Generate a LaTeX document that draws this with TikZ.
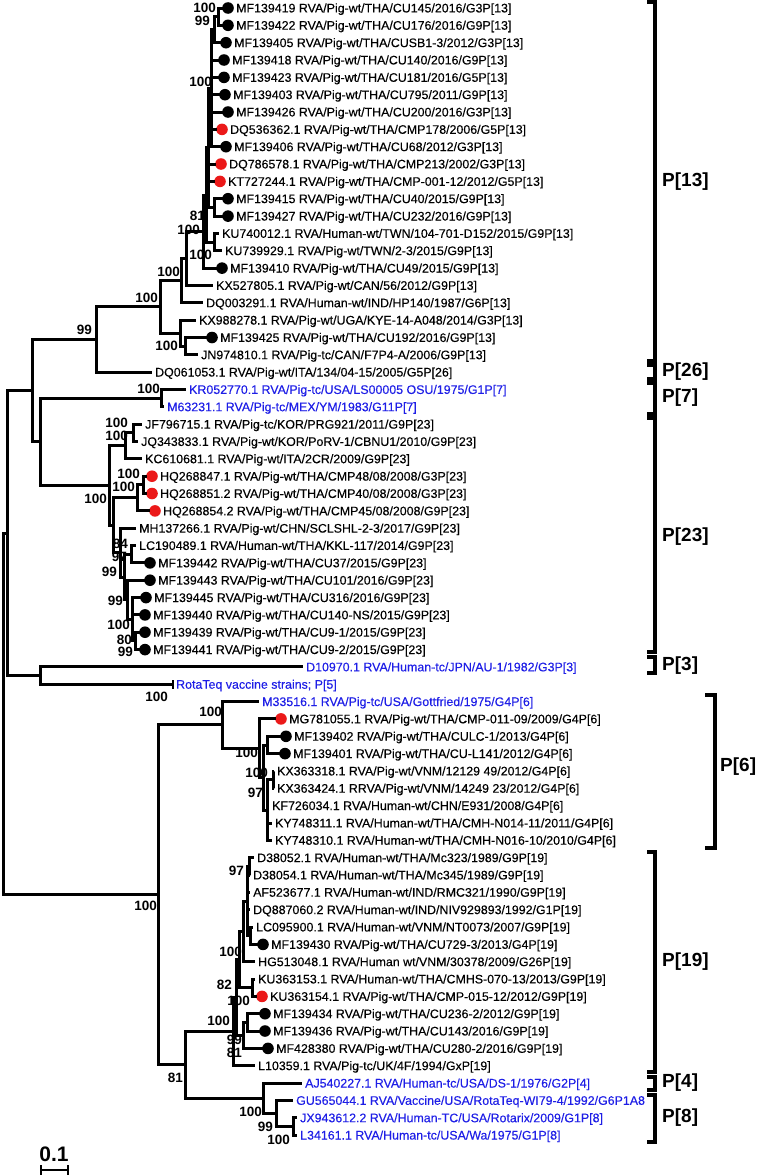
\documentclass[tikz,border=0pt]{standalone}
\usepackage{fontspec}
\setmainfont{Liberation Sans}
\newfontfamily\taxfont[FakeBold=0.3]{Liberation Sans}
\definecolor{tblue}{RGB}{30,30,230}
\definecolor{tred}{RGB}{235,25,25}
\tikzset{
 br/.style={line width=3pt, line join=miter},
 tx/.style={font=\taxfont\fontsize{12.4}{14}\selectfont, inner sep=0pt, anchor=base west},
 btx/.style={tx, text=tblue},
 bs/.style={font=\bfseries\fontsize{13.5}{15}\selectfont, inner sep=0pt, anchor=east},
 gl/.style={font=\bfseries\fontsize{19}{21}\selectfont, inner sep=0pt, anchor=west},
 bdot/.style={circle, fill=black, inner sep=0pt, minimum size=11.6pt},
 rdot/.style={circle, fill=tred, inner sep=0pt, minimum size=11.6pt},
 bk/.style={line width=4pt, line join=miter},
}
\newcommand\dleaf[5]{%
 \node[#4] (d#1) at (#2,#3) {};
 \coordinate (r#1) at ({#2-5.5},#3);
 \node[tx] (t#1) at ({#2+8},{#3+4.4}) {#5};}
\newcommand\pleaf[4]{%
 \coordinate (r#1) at ({#2-3},#3);
 \node[tx] (t#1) at (#2,{#3+4.4}) {#4};}
\newcommand\bleaf[4]{%
 \coordinate (r#1) at ({#2-3},#3);
 \node[btx] (t#1) at (#2,{#3+4.4}) {#4};}
\newcommand\treekids[2]{\foreach \c in {#2} {\draw[br] (#1) |- (\c);}}
\begin{document}
\begin{tikzpicture}[x=1pt,y=-1pt]
\useasboundingbox (0,0) rectangle (756,1175);
% ---------- bootstrap labels ----------
\node[bs] (b1) at (216,8) {100};
\node[bs] (b2) at (210,21) {99};
\node[bs] (b3) at (212,82) {100};
\node[bs] (b4) at (205,216) {81};
\node[bs] (b5) at (200,229.5) {100};
\node[bs] (b6) at (212,255) {100};
\node[bs] (b7) at (180,272) {100};
\node[bs] (b8) at (158,298) {100};
\node[bs] (b9) at (92,330) {99};
\node[bs] (b10) at (178,346) {100};
\node[bs] (b11) at (160,389) {100};
\node[bs] (b12) at (128,423) {100};
\node[bs] (b13) at (128,436) {100};
\node[bs] (b14) at (140,474) {100};
\node[bs] (b15) at (135,487) {100};
\node[bs] (b16) at (107,499) {100};
\node[bs] (b17) at (128,544) {84};
\node[bs] (b18) at (127,557) {97};
\node[bs] (b19) at (117,572) {99};
\node[bs] (b20) at (123,601) {99};
\node[bs] (b21) at (130,625) {100};
\node[bs] (b22) at (132,640) {80};
\node[bs] (b23) at (133,652) {99};
\node[bs] (b24) at (168,697) {100};
\node[bs] (b25) at (222,712) {100};
\node[bs] (b26) at (258,753) {100};
\node[bs] (b27) at (268,773) {100};
\node[bs] (b28) at (263,793) {97};
\node[bs] (b29) at (244,871) {97};
\node[bs] (b30) at (157,906) {100};
\node[bs] (b31) at (242,952) {100};
\node[bs] (b32) at (232,985) {82};
\node[bs] (b33) at (250,1001) {100};
\node[bs] (b34) at (230,1021) {100};
\node[bs] (b35) at (242,1040) {99};
\node[bs] (b36) at (242,1053) {81};
\node[bs] (b37) at (183,1078) {81};
\node[bs] (b38) at (262,1112) {100};
\node[bs] (b39) at (273,1127) {99};
\node[bs] (b40) at (290,1140) {100};
% ---------- leaves ----------
\dleaf{1}{228}{8}{bdot}{MF139419 RVA/Pig-wt/THA/CU145/2016/G3P[13]}
\dleaf{2}{228}{25.3}{bdot}{MF139422 RVA/Pig-wt/THA/CU176/2016/G9P[13]}
\dleaf{3}{226}{42.7}{bdot}{MF139405 RVA/Pig-wt/THA/CUSB1-3/2012/G3P[13]}
\dleaf{4}{224}{60}{bdot}{MF139418 RVA/Pig-wt/THA/CU140/2016/G9P[13]}
\dleaf{5}{224}{77.4}{bdot}{MF139423 RVA/Pig-wt/THA/CU181/2016/G5P[13]}
\dleaf{6}{225}{94.7}{bdot}{MF139403 RVA/Pig-wt/THA/CU795/2011/G9P[13]}
\dleaf{7}{228}{112}{bdot}{MF139426 RVA/Pig-wt/THA/CU200/2016/G3P[13]}
\dleaf{8}{222}{129.4}{rdot}{DQ536362.1 RVA/Pig-wt/THA/CMP178/2006/G5P[13]}
\dleaf{9}{226}{146.7}{bdot}{MF139406 RVA/Pig-wt/THA/CU68/2012/G3P[13]}
\dleaf{10}{221}{164}{rdot}{DQ786578.1 RVA/Pig-wt/THA/CMP213/2002/G3P[13]}
\dleaf{11}{220}{181.4}{rdot}{KT727244.1 RVA/Pig-wt/THA/CMP-001-12/2012/G5P[13]}
\dleaf{12}{228}{198.7}{bdot}{MF139415 RVA/Pig-wt/THA/CU40/2015/G9P[13]}
\dleaf{13}{228}{216.1}{bdot}{MF139427 RVA/Pig-wt/THA/CU232/2016/G9P[13]}
\pleaf{14}{222}{233.4}{KU740012.1 RVA/Human-wt/TWN/104-701-D152/2015/G9P[13]}
\pleaf{15}{225}{250.7}{KU739929.1 RVA/Pig-wt/TWN/2-3/2015/G9P[13]}
\dleaf{16}{222}{268.1}{bdot}{MF139410 RVA/Pig-wt/THA/CU49/2015/G9P[13]}
\pleaf{17}{216}{285.4}{KX527805.1 RVA/Pig-wt/CAN/56/2012/G9P[13]}
\pleaf{18}{206}{302.8}{DQ003291.1 RVA/Human-wt/IND/HP140/1987/G6P[13]}
\pleaf{19}{199}{320.1}{KX988278.1 RVA/Pig-wt/UGA/KYE-14-A048/2014/G3P[13]}
\dleaf{20}{212}{337.5}{bdot}{MF139425 RVA/Pig-wt/THA/CU192/2016/G9P[13]}
\pleaf{21}{201}{354.8}{JN974810.1 RVA/Pig-tc/CAN/F7P4-A/2006/G9P[13]}
\pleaf{22}{155}{372.1}{DQ061053.1 RVA/Pig-wt/ITA/134/04-15/2005/G5P[26]}
\bleaf{23}{189}{389.5}{KR052770.1 RVA/Pig-tc/USA/LS00005 OSU/1975/G1P[7]}
\bleaf{24}{167}{406.8}{M63231.1 RVA/Pig-tc/MEX/YM/1983/G11P[7]}
\pleaf{25}{145}{424.2}{JF796715.1 RVA/Pig-tc/KOR/PRG921/2011/G9P[23]}
\pleaf{26}{141}{441.5}{JQ343833.1 RVA/Pig-wt/KOR/PoRV-1/CBNU1/2010/G9P[23]}
\pleaf{27}{145}{458.8}{KC610681.1 RVA/Pig-wt/ITA/2CR/2009/G9P[23]}
\dleaf{28}{152}{476.2}{rdot}{HQ268847.1 RVA/Pig-wt/THA/CMP48/08/2008/G3P[23]}
\dleaf{29}{152}{493.5}{rdot}{HQ268851.2 RVA/Pig-wt/THA/CMP40/08/2008/G3P[23]}
\dleaf{30}{155}{510.9}{rdot}{HQ268854.2 RVA/Pig-wt/THA/CMP45/08/2008/G9P[23]}
\pleaf{31}{139}{528.2}{MH137266.1 RVA/Pig-wt/CHN/SCLSHL-2-3/2017/G9P[23]}
\pleaf{32}{139}{545.5}{LC190489.1 RVA/Human-wt/THA/KKL-117/2014/G9P[23]}
\dleaf{33}{150}{562.9}{bdot}{MF139442 RVA/Pig-wt/THA/CU37/2015/G9P[23]}
\dleaf{34}{150}{580.2}{bdot}{MF139443 RVA/Pig-wt/THA/CU101/2016/G9P[23]}
\dleaf{35}{146}{597.6}{bdot}{MF139445 RVA/Pig-wt/THA/CU316/2016/G9P[23]}
\dleaf{36}{145}{614.9}{bdot}{MF139440 RVA/Pig-wt/THA/CU140-NS/2015/G9P[23]}
\dleaf{37}{145}{632.2}{bdot}{MF139439 RVA/Pig-wt/THA/CU9-1/2015/G9P[23]}
\dleaf{38}{145}{649.6}{bdot}{MF139441 RVA/Pig-wt/THA/CU9-2/2015/G9P[23]}
\bleaf{39}{306}{666.9}{D10970.1 RVA/Human-tc/JPN/AU-1/1982/G3P[3]}
\bleaf{40}{176}{684.3}{RotaTeq vaccine strains; P[5]}
\bleaf{41}{262}{701.6}{M33516.1 RVA/Pig-tc/USA/Gottfried/1975/G4P[6]}
\dleaf{42}{281}{718.9}{rdot}{MG781055.1 RVA/Pig-wt/THA/CMP-011-09/2009/G4P[6]}
\dleaf{43}{286}{736.3}{bdot}{MF139402 RVA/Pig-wt/THA/CULC-1/2013/G4P[6]}
\dleaf{44}{285}{753.6}{bdot}{MF139401 RVA/Pig-wt/THA/CU-L141/2012/G4P[6]}
\pleaf{45}{277}{771}{KX363318.1 RVA/Pig-wt/VNM/12129 49/2012/G4P[6]}
\pleaf{46}{277}{788.3}{KX363424.1 RRVA/Pig-wt/VNM/14249 23/2012/G4P[6]}
\pleaf{47}{272}{805.6}{KF726034.1 RVA/Human-wt/CHN/E931/2008/G4P[6]}
\pleaf{48}{275}{823}{KY748311.1 RVA/Human-wt/THA/CMH-N014-11/2011/G4P[6]}
\pleaf{49}{275}{840.3}{KY748310.1 RVA/Human-wt/THA/CMH-N016-10/2010/G4P[6]}
\pleaf{50}{257}{857.7}{D38052.1 RVA/Human-wt/THA/Mc323/1989/G9P[19]}
\pleaf{51}{253}{875}{D38054.1 RVA/Human-wt/THA/Mc345/1989/G9P[19]}
\pleaf{52}{253}{892.3}{AF523677.1 RVA/Human-wt/IND/RMC321/1990/G9P[19]}
\pleaf{53}{253}{909.7}{DQ887060.2 RVA/Human-wt/IND/NIV929893/1992/G1P[19]}
\pleaf{54}{256}{927}{LC095900.1 RVA/Human-wt/VNM/NT0073/2007/G9P[19]}
\dleaf{55}{263}{944.4}{bdot}{MF139430 RVA/Pig-wt/THA/CU729-3/2013/G4P[19]}
\pleaf{56}{258}{961.7}{HG513048.1 RVA/Human wt/VNM/30378/2009/G26P[19]}
\pleaf{57}{258}{979}{KU363153.1 RVA/Human-wt/THA/CMHS-070-13/2013/G9P[19]}
\dleaf{58}{262}{996.4}{rdot}{KU363154.1 RVA/Pig-wt/THA/CMP-015-12/2012/G9P[19]}
\dleaf{59}{265}{1013.7}{bdot}{MF139434 RVA/Pig-wt/THA/CU236-2/2012/G9P[19]}
\dleaf{60}{265}{1031}{bdot}{MF139436 RVA/Pig-wt/THA/CU143/2016/G9P[19]}
\dleaf{61}{268}{1048.4}{bdot}{MF428380 RVA/Pig-wt/THA/CU280-2/2016/G9P[19]}
\pleaf{62}{258}{1065.7}{L10359.1 RVA/Pig-tc/UK/4F/1994/GxP[19]}
\bleaf{63}{305}{1083.1}{AJ540227.1 RVA/Human-tc/USA/DS-1/1976/G2P[4]}
\bleaf{64}{296}{1100.4}{GU565044.1 RVA/Vaccine/USA/RotaTeq-WI79-4/1992/G6P1A8}
\bleaf{65}{300}{1117.8}{JX943612.2 RVA/Human-TC/USA/Rotarix/2009/G1P[8]}
\bleaf{66}{300}{1135.1}{L34161.1 RVA/Human-tc/USA/Wa/1975/G1P[8]}
% ---------- internal nodes ----------
\coordinate (a) at (218,16.7);
\coordinate (b) at (214,29.7);
\coordinate (c) at (211,88.2);
\coordinate (d) at (214,207.4);
\coordinate (e) at (208,147.8);
\coordinate (K) at (214,242.1);
\coordinate (f) at (206,195);
\coordinate (g) at (203,231.5);
\coordinate (h) at (186,258.5);
\coordinate (i) at (181,280.6);
\coordinate (k) at (185,346.2);
\coordinate (j) at (180,333.1);
\coordinate (n160) at (160,306.9);
\coordinate (n99) at (96,339.5);
\coordinate (p7) at (161,398.2);
\coordinate (jf) at (133,432.9);
\coordinate (u) at (125,445.8);
\coordinate (hq1) at (143,484.9);
\coordinate (hq) at (137,497.9);
\coordinate (n5) at (131,554.2);
\coordinate (n1) at (135,640.9);
\coordinate (n2) at (132,619.3);
\coordinate (n3) at (127,599.7);
\coordinate (n6) at (124,577);
\coordinate (w) at (120,552.6);
\coordinate (v2) at (113,525.3);
\coordinate (p23) at (109,485.5);
\coordinate (n40) at (40,441.9);
\coordinate (n32) at (32,390.7);
\coordinate (q) at (40,675.6);
\coordinate (n7) at (7,533.2);
\coordinate (t3) at (267,745);
\coordinate (t5) at (273,779.7);
\coordinate (t4) at (267,810);
\coordinate (t2) at (263,777.5);
\coordinate (tt) at (259,748.2);
\coordinate (s) at (222,724.9);
\coordinate (g1a) at (249,866.4);
\coordinate (g1b) at (250,935.7);
\coordinate (g1) at (247,901);
\coordinate (hh) at (243,931.4);
\coordinate (k2) at (252,987.7);
\coordinate (jj) at (239,959.5);
\coordinate (m1) at (247,1022.4);
\coordinate (mm) at (243,1035.4);
\coordinate (p19a) at (236,997.5);
\coordinate (p19) at (233,1031.6);
\coordinate (p8b) at (293,1126.5);
\coordinate (p8) at (276,1113.5);
\coordinate (p48) at (263,1098.3);
\coordinate (rr) at (185,1064.9);
\coordinate (n158) at (158,894.9);
\coordinate (root) at (3,714);
% ---------- branches ----------
\treekids{a}{r1,r2}
\treekids{b}{a,r3}
\treekids{c}{b,r4,r5,r6,r7,r8,r9}
\treekids{d}{r12,r13}
\treekids{e}{c,r10,r11,d}
\treekids{K}{r14,r15}
\treekids{f}{e,K}
\treekids{g}{f,r16}
\treekids{h}{g,r17}
\treekids{i}{h,r18}
\treekids{k}{r20,r21}
\treekids{j}{r19,k}
\treekids{n160}{i,j}
\treekids{n99}{n160,r22}
\treekids{p7}{r23,r24}
\treekids{jf}{r25,r26}
\treekids{u}{jf,r27}
\treekids{hq1}{r28,r29}
\treekids{hq}{hq1,r30}
\treekids{n5}{r32,r33}
\treekids{n1}{r37,r38}
\treekids{n2}{r35,r36,n1}
\treekids{n3}{r34,n2}
\treekids{n6}{n5,n3}
\treekids{w}{r31,n6}
\treekids{v2}{hq,w}
\treekids{p23}{u,v2}
\treekids{n40}{p7,p23}
\treekids{n32}{n99,n40}
\treekids{q}{r39,r40}
\treekids{n7}{n32,q}
\treekids{t3}{r43,r44}
\treekids{t5}{r45,r46}
\treekids{t4}{t5,r47,r48,r49}
\treekids{t2}{t3,t4}
\treekids{tt}{r42,t2}
\treekids{s}{r41,tt}
\treekids{g1a}{r50,r51}
\treekids{g1b}{r54,r55}
\treekids{g1}{g1a,r52,r53,g1b}
\treekids{hh}{g1,r56}
\treekids{k2}{r57,r58}
\treekids{jj}{hh,k2}
\treekids{m1}{r59,r60}
\treekids{mm}{m1,r61}
\treekids{p19a}{jj,mm}
\treekids{p19}{p19a,r62}
\treekids{p8b}{r65,r66}
\treekids{p8}{r64,p8b}
\treekids{p48}{r63,p8}
\treekids{rr}{p19,p48}
\treekids{n158}{s,rr}
\treekids{root}{n7,n158}
\draw[line width=1.4pt] ([yshift=-4.5pt]r40) -- ([yshift=4.5pt]r40);
% ---------- genotype brackets ----------
\draw[bk] (647,2) -- (655,2) -- (655,361) -- (647,361);
\draw[bk] (647,365) -- (655,365) -- (655,379) -- (647,379);
\draw[bk] (647,383) -- (655,383) -- (655,414) -- (647,414);
\draw[bk] (647,418) -- (655,418) -- (655,652) -- (647,652);
\draw[bk] (647,657) -- (655,657) -- (655,673) -- (647,673);
\draw[bk] (705,695) -- (715,695) -- (715,848) -- (705,848);
\draw[bk] (647,852) -- (655,852) -- (655,1072) -- (647,1072);
\draw[bk] (647,1077) -- (655,1077) -- (655,1090) -- (647,1090);
\draw[bk] (647,1095) -- (655,1095) -- (655,1142) -- (647,1142);
\node[gl] (g13) at (662,182) {P[13]};
\node[gl] (g26) at (662,372) {P[26]};
\node[gl] (g7) at (662,398) {P[7]};
\node[gl] (g23) at (662,537) {P[23]};
\node[gl] (g3) at (662,666) {P[3]};
\node[gl] (g6) at (720,767) {P[6]};
\node[gl] (g19) at (662,962) {P[19]};
\node[gl] (g4) at (662,1083) {P[4]};
\node[gl] (g8) at (662,1118) {P[8]};
% ---------- scale bar ----------
\node[font=\bfseries\fontsize{21}{23}\selectfont, inner sep=0pt] (sc) at (54,1154) {0.1};
\coordinate (sb1) at (41,1170);
\coordinate (sb2) at (68,1170);
\draw[line width=2.4pt] (sb1) -- (sb2);
\draw[line width=2.4pt] ([yshift=-5pt]sb1) -- ([yshift=5pt]sb1);
\draw[line width=2.4pt] ([yshift=-5pt]sb2) -- ([yshift=5pt]sb2);
\end{tikzpicture}
\end{document}
